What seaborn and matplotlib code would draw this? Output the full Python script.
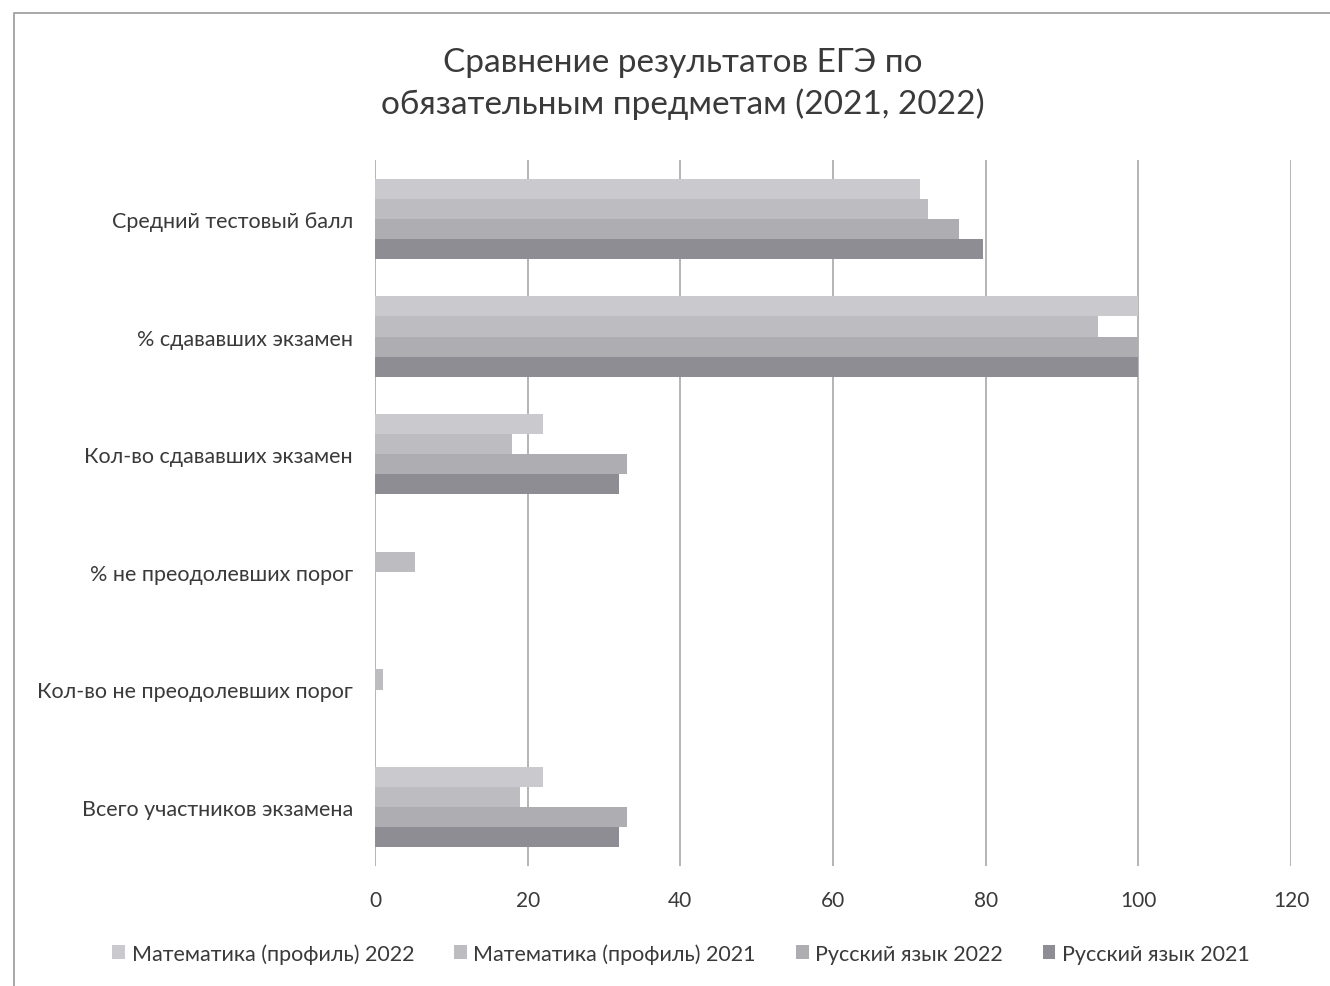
import matplotlib
matplotlib.use("Agg")
import matplotlib.pyplot as plt
import seaborn as sns
import pandas as pd
from matplotlib.patches import Rectangle

categories = [
    "Средний тестовый балл",
    "% сдававших экзамен",
    "Кол-во сдававших экзамен",
    "% не преодолевших порог",
    "Кол-во не преодолевших порог",
    "Всего участников экзамена",
]
series = [
    "Математика (профиль) 2022",
    "Математика (профиль) 2021",
    "Русский язык 2022",
    "Русский язык 2021",
]
math_2022 = [71.4, 100, 22, 0, 0, 22]
math_2021 = [72.4, 94.7, 18, 5.3, 1, 19]
rus_2022 = [76.5, 100, 33, 0, 0, 33]
rus_2021 = [79.7, 100, 32, 0, 0, 32]
x_ticks = [0, 20, 40, 60, 80, 100, 120]
title = "Сравнение результатов ЕГЭ по\nобязательным предметам (2021, 2022)"

colors = ["#cacace", "#bcbcc1", "#adadb2", "#8d8d93"]

rows = []
for name, vals in zip(series, [math_2022, math_2021, rus_2022, rus_2021]):
    for c, v in zip(categories, vals):
        rows.append({"cat": c, "series": name, "value": v})
df = pd.DataFrame(rows)

sns.set_theme(style="white")
plt.rcParams["font.family"] = ["Lato", "DejaVu Sans"]
text_color = "#3a3a3a"

fig = plt.figure(figsize=(13.3, 9.87), dpi=100)
ax = fig.add_axes([375 / 1330, 1 - 867 / 987, (1291 - 375) / 1330, (867 - 161) / 987])

sns.barplot(data=df, y="cat", x="value", hue="series", order=categories,
            hue_order=series, palette=colors, width=0.68, orient="h",
            saturation=1, ax=ax, legend=True, linewidth=0)

ax.set_xlim(0, 120)
ax.set_xticks(x_ticks)
ax.set_xticklabels([str(t) for t in x_ticks], fontsize=15, color=text_color)
ax.tick_params(axis="x", length=0, pad=17)
ax.tick_params(axis="y", length=0, pad=16, labelsize=15.5, labelcolor=text_color)
ax.set_xlabel("")
ax.set_ylabel("")
ax.grid(axis="x", color="#a8a8a8", linewidth=1.2)
ax.set_axisbelow(True)
for s in ["top", "right", "bottom", "left"]:
    ax.spines[s].set_visible(False)

leg = ax.legend(loc="upper center", bbox_to_anchor=(0.334, -0.082), ncol=4,
                frameon=False, fontsize=15.5, handlelength=0.6, handleheight=0.6,
                handletextpad=0.3, columnspacing=1.85)
for t in leg.get_texts():
    t.set_color(text_color)

fig.text(683 / 1330, 1 - 84 / 987, title, ha="center", va="center",
         fontsize=24, color=text_color, linespacing=1.4)

fig.patches.append(Rectangle((14 / 1330, -0.1), 1.2, 1 - 14 / 987 + 0.1,
                             transform=fig.transFigure, fill=False,
                             edgecolor="#9a9a9a", linewidth=1.2))

fig.savefig("out.png", dpi=100, facecolor="white")
